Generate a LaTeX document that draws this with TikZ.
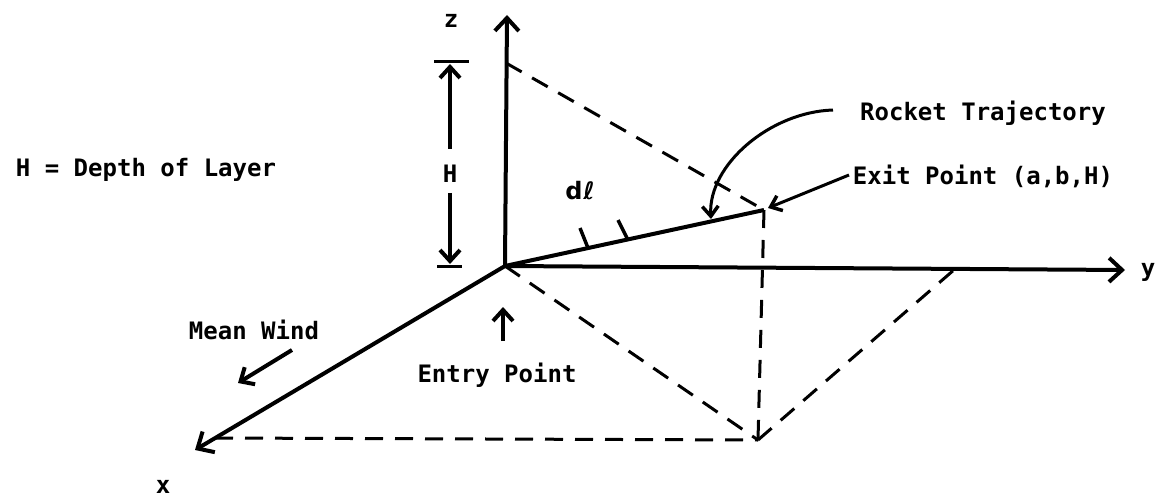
\documentclass[tikz,border=0pt]{standalone}
\usepackage{fontspec}
\setmonofont{DejaVu Sans Mono}
\newfontfamily\dvsans{DejaVu Sans}
\usetikzlibrary{arrows.meta}
\begin{document}
\begin{tikzpicture}[x=1pt,y=-1pt,
  lbl/.style={font=\fontsize{24}{28}\selectfont\ttfamily\bfseries, inner sep=0pt, anchor=center},
  axis/.style={line width=4pt, -{Straight Barb[length=13pt,width=24pt,line width=4pt]}},
  thick line/.style={line width=4pt},
  dash line/.style={line width=3pt, dash pattern=on 18pt off 12pt},
  barb/.style={line width=4pt, -{Straight Barb[length=11pt,width=20pt,line width=4pt]}},
  thin barb/.style={line width=3pt, -{Straight Barb[length=10pt,width=16pt,line width=3.5pt]}}]
\useasboundingbox (0,0) rectangle (1160,500);
% key points
\coordinate (O) at (505,266);
\coordinate (ZT) at (507,15);
\coordinate (YT) at (1125,270);
\coordinate (XT) at (195,450);
\coordinate (ZH) at (506,63);
\coordinate (E) at (764,210);
\coordinate (P) at (758,440);
\coordinate (YA) at (955,269);
\coordinate (XA) at (215,438);
% axes
\draw[axis] (O) -- (ZT);
\draw[axis] (O) -- (YT);
\draw[axis] (O) -- (XT);
% trajectory
\draw[thick line] (O) -- (E);
\coordinate (t1a) at (588,248); \coordinate (t1b) at (580,228);
\coordinate (t2a) at (628,240); \coordinate (t2b) at (618,220);
\draw[line width=3.5pt] (t1a) -- (t1b);
\draw[line width=3.5pt] (t2a) -- (t2b);
% dashed construction lines
\draw[dash line] (ZH) -- (E);
\draw[dash line] (E) -- (P);
\draw[dash line] (O) -- (P);
\draw[dash line] (P) -- (YA);
\draw[dash line] (XA) -- (P);
% H dimension
\coordinate (Htl) at (434,62); \coordinate (Htr) at (469,62);
\coordinate (Hbl) at (437,266); \coordinate (Hbr) at (462,266);
\draw[line width=3pt] (Htl) -- (Htr);
\draw[line width=3pt] (Hbl) -- (Hbr);
\node[lbl] (H) at (450,174) {H};
\coordinate (Ht) at (450,64);
\coordinate (Hb) at (450,264);
\coordinate (Hu) at (450,149);
\coordinate (Hd) at (450,193);
\draw[barb] (Hu) -- (Ht);
\draw[barb] (Hd) -- (Hb);
% labels
\node[lbl] (zl) at (451,21) {z};
\node[lbl] (yl) at (1148,272) {y};
\node[lbl] (xl) at (163,487) {x};
\node[lbl] (dl) at (580,191) {{\dvsans\bfseries d\kern1pt ℓ}};
\node[lbl] (hdef) at (146,170) {H = Depth of Layer};
\node[lbl] (rt) at (983,113) {Rocket Trajectory};
\node[lbl] (ep) at (983,176) {Exit Point (a,b,H)};
\node[lbl] (mw) at (254,330) {Mean Wind};
\node[lbl] (en) at (497,375) {Entry Point};
% pointer arrows
\coordinate (rts) at (833,110);
\coordinate (rtend) at (711,219);
\draw[thin barb] (rts) .. controls (770,112) and (708,165) .. (rtend);
\coordinate (eps) at (849,175);
\coordinate (eptip) at (768,208);
\draw[thin barb] (eps) -- (eptip);
\coordinate (mws) at (292,350); \coordinate (mwe) at (238,383);
\draw[barb] (mws) -- (mwe);
\coordinate (ens) at (503,341); \coordinate (ene) at (503,307);
\draw[barb] (ens) -- (ene);
\end{tikzpicture}
\end{document}
